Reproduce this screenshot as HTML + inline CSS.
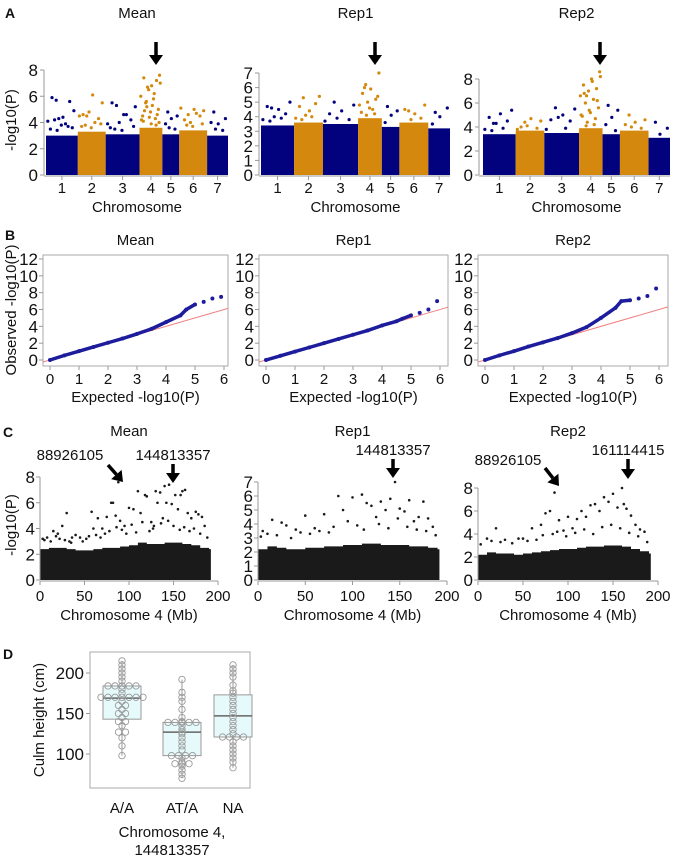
<!DOCTYPE html>
<html><head><meta charset="utf-8"><style>
body{margin:0;background:#fff}
svg{display:block;font-family:"Liberation Sans",Arial,sans-serif}
</style></head><body>
<svg id="fig" width="679" height="856" viewBox="0 0 679 856" xmlns="http://www.w3.org/2000/svg"></svg>
<script>
// ---------- DATA ----------
const chrNames = ["1","2","3","4","5","6","7"];
const chrSizes = [32,28,34,23,17,28,21];
const manMeanDense = [3.0,3.3,3.1,3.6,3.1,3.4,3.0];
const manRep1Dense = [3.4,3.6,3.5,3.9,3.3,3.6,3.2];
const manRep2Dense = [3.4,3.7,3.5,3.9,3.4,3.7,3.1];
const manMeanOut = [[5.7,4.9,4.4,5.9,5.6,4.3,4.1,3.9,4.2,3.6,3.8,3.5,3.7,3.4],[4.5,5.5,6.1,4.6,4.3,4.8,4.5,4.0,3.8,3.9,3.6,3.7],[5.3,5.2,4.6,5.5,4.2,4.0,3.9,4.6,3.5,3.7,3.4,3.6],[5.2,7.6,6.8,7.4,7.2,6.5,6.0,5.8,5.5,5.0,4.8,4.5,4.3,6.7,7.0,5.3,4.9,4.6,4.4,4.2,6.2,5.6,4.0,3.9,4.1,3.8],[4.8,4.5,4.3,3.9,3.5,3.6],[4.6,4.9,5.0,4.2,4.5,4.0,5.1,4.7,3.8,3.9,3.7],[4.8,4.3,3.9,4.0,3.4,3.5]];
const manRep1Out = [[4.6,5.0,4.5,4.7,4.2,4.0,3.8,3.9,3.7],[5.3,5.4,4.4,4.7,4.9,4.1,3.9,4.0,3.8],[5.0,4.8,4.4,4.2,3.8,3.9,3.7],[6.2,7.0,5.9,5.6,5.2,5.0,4.8,4.5,6.0,5.4,4.6,4.3,4.2,4.1],[4.7,4.4,4.1,3.6],[4.4,4.8,4.2,4.5,3.9,3.8],[4.3,4.6,4.0,3.5]];
const manRep2Out = [[4.3,5.4,5.1,4.8,4.5,4.3,3.8,3.9,3.7],[4.4,4.5,4.7,4.0,3.9,4.1,3.8],[5.6,5.5,5.0,4.6,4.5,4.8,3.8,3.9],[6.6,8.6,8.0,7.5,7.2,7.0,6.6,6.3,6.0,5.6,5.2,4.9,4.7,4.4,8.2,7.8,6.8,6.2,5.4,5.0,4.2,4.1],[5.8,5.4,4.8,4.2,3.7],[5.0,4.6,4.4,4.2,3.9,4.0],[4.4,3.9,3.4]];

const qqExpected = [0,0.5,1,1.5,2,2.5,3,3.5,4,4.5,4.7,5,5.3,5.6,5.9];
const qqMeanObs  = [0,0.55,1.05,1.55,2.05,2.55,3.1,3.7,4.5,5.3,6.0,6.6,6.9,7.3,7.5];
const qqRep1Obs  = [0,0.5,1.0,1.5,2.0,2.5,3.0,3.5,4.1,4.6,4.9,5.3,5.6,6.0,7.0];
const qqRep2Obs  = [0,0.55,1.05,1.6,2.1,2.6,3.2,3.9,5.0,6.2,7.0,7.1,7.3,7.6,8.5];

const c4Bins = [0,10,20,30,40,50,60,70,80,90,100,110,120,130,140,150,160,170,180,190];
const c4MeanDense = [2.4,2.5,2.5,2.4,2.3,2.3,2.4,2.5,2.5,2.6,2.7,2.9,2.8,2.8,2.9,2.9,2.8,2.7,2.5,2.4];
const c4Rep1Dense = [2.2,2.4,2.3,2.2,2.2,2.3,2.3,2.4,2.4,2.5,2.5,2.6,2.6,2.5,2.5,2.5,2.4,2.4,2.3,2.2];
const c4Rep2Dense = [2.2,2.4,2.3,2.3,2.2,2.3,2.4,2.5,2.6,2.7,2.7,2.8,2.9,2.9,3.0,3.0,2.9,2.7,2.5,2.3];
const c4MeanPos = [15,25,30,20,45,58,65,70,75,80,82,85,88,90,95,100,105,110,113,118,120,125,130,132,135,140,142,145,148,152,155,158,160,163,166,170,175,178,182,185,138,128,60,40,5,8,12,18,22,28,33,36,48,52,55,63,68,73,78,86,92,97,103,108,115,123,127,136,144,150,157,162,168,173,180,188,3,35];
const c4MeanVal = [3.8,4.2,5.2,3.6,3.3,5.3,4.8,4.0,4.9,6.0,6.0,5.0,7.6,4.6,4.2,5.6,5.5,6.9,5.2,6.6,6.5,4.5,6.9,6.0,6.8,7.3,6.0,7.4,5.9,6.6,5.5,6.6,6.9,7.0,5.2,4.8,5.3,5.1,4.9,4.2,4.8,4.2,4.0,3.5,3.1,3.3,3.0,3.4,3.2,3.1,3.0,3.3,3.0,3.2,3.4,3.5,3.3,3.6,3.8,4.1,3.9,3.6,4.3,3.7,4.5,3.8,4.0,4.4,4.6,4.2,3.9,4.1,3.8,4.0,3.6,3.3,3.2,2.9];
const c4Rep1Pos = [5,15,25,30,50,70,85,90,100,110,115,120,125,130,135,140,145,150,155,160,165,170,175,180,185,60,40,95,3,10,20,35,45,55,65,75,80,105,112,128,138,148,158,168,178,188];
const c4Rep1Val = [3.5,4.3,4.1,3.9,4.6,4.7,6.0,5.0,5.9,6.1,5.5,5.3,4.5,5.6,5.0,5.8,7.0,5.1,4.9,5.7,4.2,4.5,5.6,4.4,3.8,3.7,3.6,4.2,3.1,3.3,3.2,3.0,3.4,3.3,3.5,3.4,3.8,3.9,3.6,4.0,3.7,4.4,3.8,3.6,3.5,3.2];
const c4Rep2Pos = [10,20,30,45,60,70,75,80,85,90,100,110,115,120,125,130,135,140,145,150,155,160,162,165,170,175,180,185,105,95,3,15,25,38,50,55,65,72,83,88,98,108,118,128,138,148,158,168,178,188];
const c4Rep2Val = [3.6,4.5,3.5,3.6,4.5,4.8,5.8,6.0,7.6,5.2,5.5,5.3,6.0,5.5,6.5,6.6,6.0,7.2,6.8,7.5,6.3,8.0,6.6,6.2,5.6,4.8,4.4,4.2,4.5,4.3,3.1,3.4,3.3,3.2,3.6,3.4,3.5,3.9,4.0,4.2,3.8,4.1,4.4,4.0,4.6,4.8,4.5,4.1,3.8,3.3];

const boxGroups = ["A/A","AT/A","NA"];
const boxQ1 = [143,98,121];
const boxMed = [169,127,147];
const boxQ3 = [184,139,173];
const boxMin = [98,70,83];
const boxMax = [215,192,210];
const ptsAA = [215,210,205,200,195,190,184,184,184,184,184,180,175,170,170,170,170,170,170,170,165,160,160,155,150,150,145,140,140,135,127,127,120,110,98];
const ptsATA = [192,176,170,165,155,145,140,139,139,139,139,139,135,130,127,125,120,115,110,105,98,98,98,98,95,90,88,88,88,85,80,75,70];
const ptsNA = [210,205,200,195,185,178,175,170,165,160,155,150,145,140,135,130,125,121,121,121,121,115,110,105,100,95,90,83];

// ---------- HELPERS ----------
const NS="http://www.w3.org/2000/svg";
const svg=document.getElementById('fig');
function mk(tag,attrs,parent){const e=document.createElementNS(NS,tag);for(const k in attrs)e.setAttribute(k,attrs[k]);(parent||svg).appendChild(e);return e;}
function txt(x,y,s,size,anchor,parent,weight){const t=mk('text',{x:x,y:y,'font-size':size,'text-anchor':anchor||'middle','fill':'#111'},parent);if(weight)t.setAttribute('font-weight',weight);t.textContent=s;return t;}
function lin(d0,d1,r0,r1){return v=>r0+(v-d0)*(r1-r0)/(d1-d0);}
function arrowDown(x,y0,y1,g){mk('line',{x1:x,y1:y0,x2:x,y2:y1-8,stroke:'#000','stroke-width':3.5},g);mk('polygon',{points:`${x-7},${y1-10} ${x+7},${y1-10} ${x},${y1}`,fill:'#000'},g);}
function arrowDiag(x0,y0,x1,y1,g){const dx=x1-x0,dy=y1-y0,L=Math.hypot(dx,dy),ux=dx/L,uy=dy/L;const bx=x1-ux*10,by=y1-uy*10;mk('line',{x1:x0,y1:y0,x2:bx,y2:by,stroke:'#000','stroke-width':3.5},g);mk('polygon',{points:`${bx-uy*7},${by+ux*7} ${bx+uy*7},${by-ux*7} ${x1},${y1}`,fill:'#000'},g);}

[['A',10,18],['B',10,240],['C',8,437],['D',8,659]].forEach(([l,x,y])=>{const t=txt(x,y,l,14,'middle',null,'bold');});

// ---------- A: Manhattan ----------
function manhattan(name,ax,x0,x1,ymax,yTop,dense,outs,arrowX){
  const g=mk('g',{});
  
  
  const y=lin(0,ymax,175,yTop);
  const total=chrSizes.reduce((a,b)=>a+b,0);
  const xs=lin(0,total,x0,x1);
  let cum=0;
  chrSizes.forEach((s,i)=>{
    const col=i%2?'#d4890e':'#02027f';
    const a=xs(cum),b=xs(cum+s);
    const r=mk('rect',{x:a,y:y(dense[i]),width:b-a,height:175-y(dense[i]),fill:col},g);
    
    
    outs[i].forEach((v,j)=>{
      const f=0.05+0.9*((j*0.618+0.3)%1);
      const c=mk('circle',{cx:a+f*(b-a),cy:y(v),r:1.6,fill:col},g);
      
      
    });
    const t=txt((a+b)/2,193,chrNames[i],15,'middle',g);
    
    
    mk('line',{x1:(a+b)/2,y1:176,x2:(a+b)/2,y2:180,stroke:'#999'},g);
    cum+=s;
  });
  mk('line',{x1:ax,y1:y(ymax),x2:ax,y2:175,stroke:'#999'},g);
  mk('line',{x1:ax,y1:176,x2:x1,y2:176,stroke:'#999'},g);
  const step=ymax>7?2:1;
  for(let v=0;v<=ymax;v+=step){mk('line',{x1:ax-4,y1:y(v),x2:ax,y2:y(v),stroke:'#999'},g);const t=txt(ax-6,y(v)+6,String(v),17,'end',g);}
  const tt=txt((x0+x1)/2,18,name,15,'middle',g);
  const xl=txt((x0+x1)/2,212,'Chromosome',15,'middle',g);
  arrowDown(arrowX,42,65,g);
}
manhattan('Mean',44,46,228,8,70,manMeanDense,manMeanOut,156);
manhattan('Rep1',259,261,450,7,73,manRep1Dense,manRep1Out,375);
manhattan('Rep2',479,483,670,8,79,manRep2Dense,manRep2Out,600);
{const t=txt(0,0,'-log10(P)',15,'middle');t.setAttribute('transform','translate(16,120) rotate(-90)');}

// ---------- B: QQ ----------
function qq(name,bx0,bx1,obs){
  const g=mk('g',{});
  
  
  const x=lin(0,6,bx0+7,bx0+181), y=lin(0,12,360,259);
  mk('rect',{x:bx0,y:255,width:bx1-bx0,height:111,fill:'none',stroke:'#aaa'},g);
  const rl=mk('line',{x1:bx0,y1:y(-0.24),x2:bx1,y2:y((bx1-bx0-7)/29),stroke:'#f08080','stroke-width':1},g);
  
  const n=qqExpected.length;
  let pts=[];for(let i=0;i<n-3;i++)pts.push(x(qqExpected[i])+','+y(obs[i]));
  const pl=mk('polyline',{points:pts.join(' '),fill:'none',stroke:'#1c1c9c','stroke-width':3.5,'stroke-linejoin':'round'},g);
  
  for(let i=0;i<n;i++){const c=mk('circle',{cx:x(qqExpected[i]),cy:y(obs[i]),r:2,fill:'#1c1c9c'},g);}
  for(let v=0;v<=12;v+=2){mk('line',{x1:bx0-4,y1:y(v),x2:bx0,y2:y(v),stroke:'#999'},g);const t=txt(bx0-5,y(v)+6,String(v),17,'end',g);}
  for(let v=0;v<=6;v++){mk('line',{x1:x(v),y1:366,x2:x(v),y2:370,stroke:'#999'},g);const t=txt(x(v),384,String(v),15,'middle',g);}
  const tt=txt((bx0+bx1)/2,245,name,15,'middle',g);
  const xl=txt((bx0+bx1)/2,402,'Expected -log10(P)',15,'middle',g);
}
qq('Mean',43,228,qqMeanObs);
qq('Rep1',259,448,qqRep1Obs);
qq('Rep2',478,668,qqRep2Obs);
{const t=txt(0,0,'Observed -log10(P)',15,'middle');t.setAttribute('transform','translate(16,310) rotate(-90)');}

// ---------- C: chromosome 4 ----------
function chr4(name,ax,xEnd,ymax,yTop,dense,pos,val){
  const g=mk('g',{});
  
  
  const x=lin(0,200,ax,xEnd), y=lin(0,ymax,580,yTop);
  let p=[x(0)+','+y(0)];
  c4Bins.forEach((b,i)=>{p.push(x(b)+','+y(dense[i]));p.push(x(Math.min(b+10,192))+','+y(dense[i]));});
  p.push(x(192)+','+y(0));
  const a=mk('polygon',{points:p.join(' '),fill:'#1a1a1a'},g);
  
  pos.forEach((ps,i)=>{const c=mk('circle',{cx:x(ps),cy:y(val[i]),r:1.3,fill:'#1a1a1a'},g);});
  mk('line',{x1:ax,y1:y(ymax),x2:ax,y2:580,stroke:'#999'},g);
  mk('line',{x1:ax,y1:581,x2:xEnd,y2:581,stroke:'#999'},g);
  const step=ymax>7?2:1;
  for(let v=0;v<=ymax;v+=step){mk('line',{x1:ax-4,y1:y(v),x2:ax,y2:y(v),stroke:'#999'},g);const t=txt(ax-5,y(v)+6,String(v),17,'end',g);}
  for(let v=0;v<=200;v+=50){mk('line',{x1:x(v),y1:581,x2:x(v),y2:585,stroke:'#999'},g);const t=txt(x(v),601,String(v),15,'middle',g);}
  const tt=txt((ax+xEnd)/2,436,name,15,'middle',g);
  const xl=txt((ax+xEnd)/2,620,'Chromosome 4 (Mb)',15,'middle',g);
  return g;
}
const gm=chr4('Mean',40,218,8,477,c4MeanDense,c4MeanPos,c4MeanVal);
const g1=chr4('Rep1',258,447,7,482,c4Rep1Dense,c4Rep1Pos,c4Rep1Val);
const g2=chr4('Rep2',478,658,8,488,c4Rep2Dense,c4Rep2Pos,c4Rep2Val);
{const t=txt(70,460,'88926105',15,'middle',gm);arrowDiag(108,465,123,482,gm);
 const t2=txt(173,460,'144813357',15,'middle',gm);arrowDown(173,464,483,gm);
 const t3=txt(393,455,'144813357',15,'middle',g1);arrowDown(393,459,478,g1);
 const t4=txt(508,465,'88926105',15,'middle',g2);arrowDiag(545,468,559,486,g2);
 const t5=txt(628,455,'161114415',15,'middle',g2);arrowDown(628,459,479,g2);}
{const t=txt(0,0,'-log10(P)',15,'middle');t.setAttribute('transform','translate(16,525) rotate(-90)');}

// ---------- D: box plot ----------
{
  const g=mk('g',{});
  
  
  const y=lin(100,200,754,673);
  const cx=[122,182,233];
  mk('rect',{x:90,y:652,width:160,height:136,fill:'none',stroke:'#aaa'},g);
  const pts=[ptsAA,ptsATA,ptsNA];
  boxGroups.forEach((gname,i)=>{
    const w=38;
    mk('line',{x1:cx[i],y1:y(boxMax[i]),x2:cx[i],y2:y(boxMin[i]),stroke:'#999'},g);
    const b=mk('rect',{x:cx[i]-w/2,y:y(boxQ3[i]),width:w,height:y(boxQ1[i])-y(boxQ3[i]),fill:'#e6fafc',stroke:'#999'},g);
    
    mk('line',{x1:cx[i]-w/2,y1:y(boxMed[i]),x2:cx[i]+w/2,y2:y(boxMed[i]),stroke:'#666','stroke-width':1.5},g);
    const cnt={};
    pts[i].forEach(v=>{cnt[v]=(cnt[v]||0)+1;});
    const seen={};
    pts[i].forEach(v=>{const n=cnt[v];const j=seen[v]=(seen[v]||0);seen[v]++;
      const off=(j-(n-1)/2)*7;
      const c=mk('circle',{cx:cx[i]+off,cy:y(v),r:3.2,fill:'none',stroke:'#999','stroke-width':0.9},g);
      });
    const t=txt(cx[i],813,gname,15,'middle',g);
  });
  [100,150,200].forEach(v=>{mk('line',{x1:86,y1:y(v),x2:90,y2:y(v),stroke:'#999'},g);const t=txt(84,y(v)+6,String(v),17,'end',g);});
  const yl=txt(0,0,'Culm height (cm)',15,'middle',g);yl.setAttribute('transform','translate(44,720) rotate(-90)');
  const x1=txt(172,837,'Chromosome 4,',15,'middle',g);
  const x2=txt(172,855,'144813357',15,'middle',g);
}
</script>
</body></html>
